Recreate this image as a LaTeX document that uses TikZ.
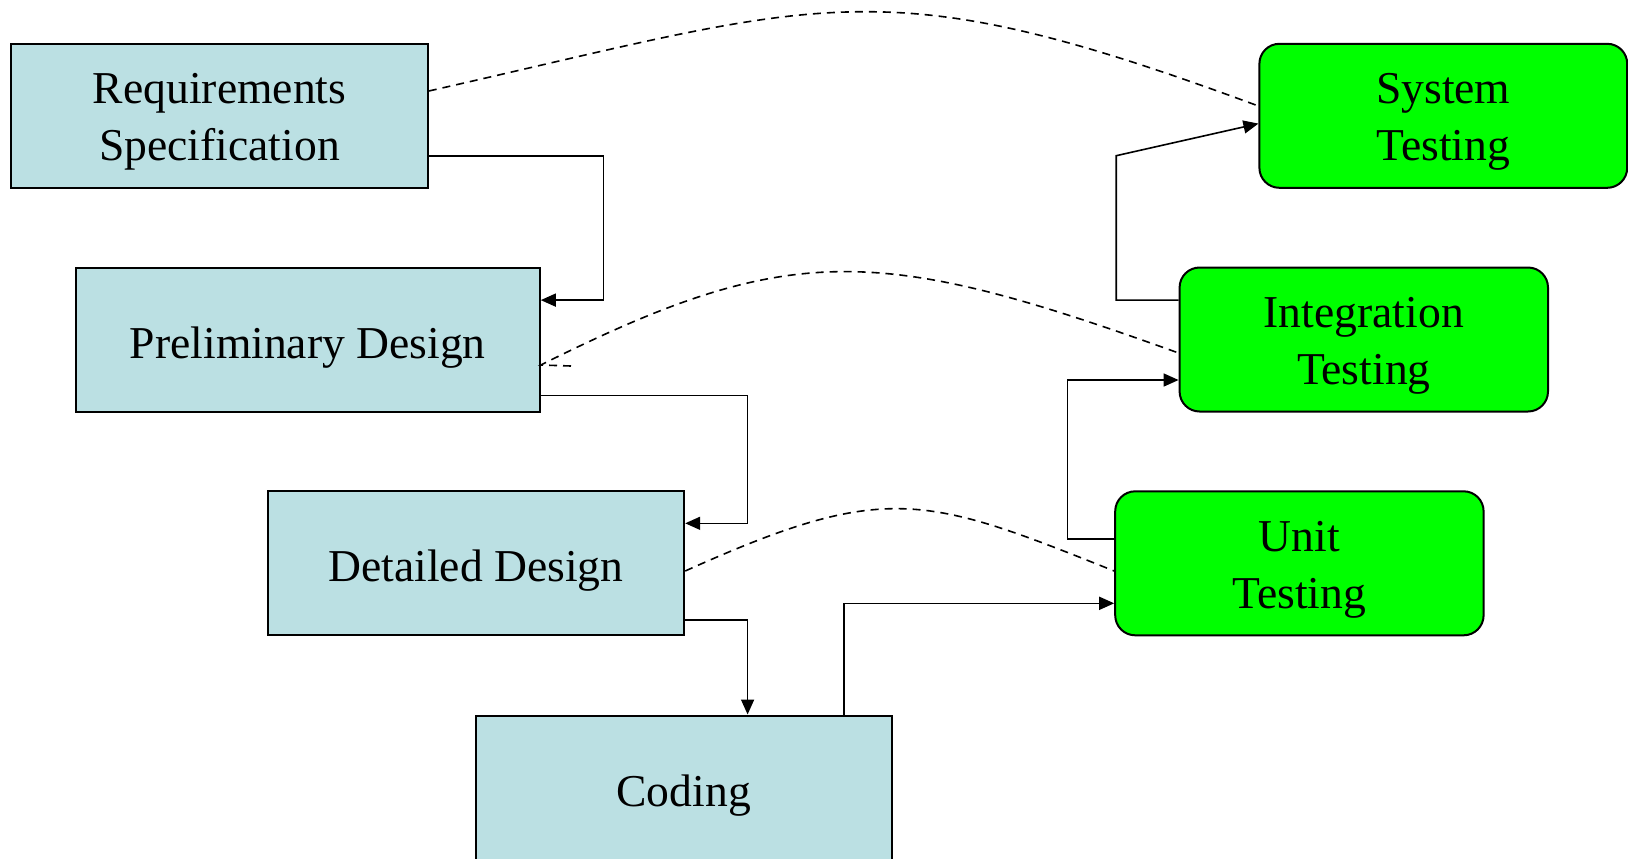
\documentclass[tikz,border=0pt]{standalone}
\usepackage{fontspec}
\setmainfont{Liberation Serif}
\usetikzlibrary{arrows.meta,calc}

\definecolor{phasefill}{RGB}{187,224,227}
\definecolor{testfill}{RGB}{0,255,0}

\begin{document}
\begin{tikzpicture}[
  x=0.5pt, y=-0.5pt,
  % height reserved above the last baseline, so the text sits a little low
  text top/.store in=\texttop,
  text top=23.6pt,
  twolines/.style={text top=49.8pt},
  boxtext/.style={inner sep=0pt, align=center, text=black,
    font=\fontsize{22.8pt}{28.5pt}\selectfont,
    execute at begin node=\rule{0pt}{\texttop}},
  phasebox/.style={boxtext, draw=black, line width=1pt, fill=phasefill,
    rectangle, minimum width=208.2pt, minimum height=72pt},
  testbox/.style={boxtext, twolines, draw=black, line width=1pt, fill=testfill,
    rectangle, rounded corners=10pt, minimum width=184.2pt, minimum height=72pt},
  flow/.style={draw=black, line width=0.8pt, -{Triangle[length=7.5pt,width=6.5pt]}},
  verify/.style={draw=black, line width=0.8pt, dash pattern=on 4pt off 3pt}
]
\useasboundingbox (0,0) rectangle (1628,858);

% development phases
\node[phasebox, twolines] (req) at (219.6,115.8) {Requirements\\Specification};
\node[phasebox, minimum width=232pt] (prelim) at (307.8,339.5) {Preliminary Design};
\node[phasebox] (detail) at (476,563.3) {Detailed Design};
\node[phasebox] (coding) at (683.7,787.5) {Coding};

% testing phases
\node[testbox, minimum width=183.9pt] (sys) at (1443.3,115.8) {System\\Testing};
\node[testbox] (integ) at (1363.8,339.5) {Integration\\Testing};
\node[testbox] (unit) at (1299.4,563.3) {Unit\\Testing};

% bend points of the flow lines
\coordinate (b1) at (603.3,300.1);
\coordinate (b2) at (747.6,523.3);
\coordinate (b5) at (1067.4,380);
\coordinate (b6) at (1116.2,155.7);
\coordinate (hook) at (571,366);

% flow down the left side
\draw[flow] (req.east |- 0,155.7) -| (b1) -- (prelim.east |- b1);
\draw[flow] (prelim.east |- 0,395.6) -| (b2) -- (detail.east |- b2);
\draw[flow] (detail.east |- 0,619.9) -| (coding.north -| b2);

% flow up the right side
\draw[flow] (coding.north -| 844.1,0) |- (unit.west |- 0,603.3);
\draw[flow] (unit.west |- 0,538.9) -| (b5) -- (integ.west |- b5);
\draw[flow] (integ.west |- 0,300.1) -| (b6) -- (sys.west |- 0,123.6);

% verification links
\draw[verify] (req.east |- 0,91) .. controls +(400,-90.4) and +(-380,-140.6) .. (sys.west |- 0,106);
\draw[verify] (hook) -- (prelim.east |- 0,365) .. controls +(250,-125) and +(-300,-108) .. (integ.west |- 0,353);
\draw[verify] (detail.east |- 0,571) .. controls +(200,-90) and +(-190,-76) .. (unit.west |- 0,571);
\end{tikzpicture}
\end{document}
